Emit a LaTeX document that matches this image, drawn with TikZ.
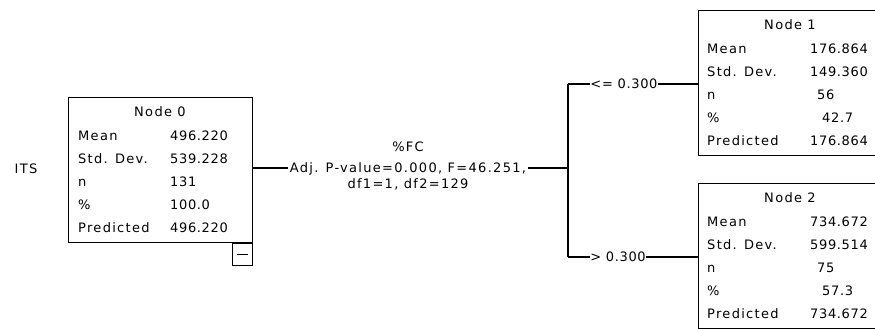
\documentclass[tikz,border=0pt]{standalone}
\usepackage{fontspec}
\setmainfont{DejaVu Sans}
\newfontfamily\lblfont[LetterSpace=10]{DejaVu Sans}
\newfontfamily\numfont[LetterSpace=5]{DejaVu Sans}
\begin{document}
\begin{tikzpicture}[x=1pt,y=-1pt,
  box/.style={draw=black,line width=1.2pt,inner sep=0pt,minimum width=184pt,minimum height=145pt,anchor=north west},
  lbl/.style={inner sep=0pt,anchor=base west,font=\lblfont\fontsize{13}{15}\selectfont},
  val/.style={inner sep=0pt,anchor=base west,font=\numfont\fontsize{13}{15}\selectfont},
  ttl/.style={inner sep=0pt,anchor=base,font=\lblfont\fontsize{13}{15}\selectfont},
  conn/.style={line width=1.2pt},
  cond/.style={inner sep=1.5pt,anchor=base,font=\lblfont\fontsize{13}{15}\selectfont},
  brl/.style={inner sep=0.5pt,font=\numfont\fontsize{13}{15}\selectfont}]
\useasboundingbox (0,0) rectangle (875,329);
\begin{scope}
\clip (0,0) rectangle (875,329);
% boxes
\node[box] (n0) at (68,97) {};
\node[box] (n1) at (698,10) {};
\node[box] (n2) at (698,183) {};
\node[draw=black,line width=1.2pt,inner sep=0pt,minimum width=20pt,minimum height=22pt,anchor=north east] (mb) at (n0.south east) {};
\draw[conn] ([xshift=5pt]mb.west) -- ([xshift=-5pt]mb.east);
% node 0 text
\node[ttl] (t0) at (160,116.6) {Node 0};
\node[lbl] (l0a) at (78,140.6) {Mean};
\node[lbl] (l0b) at (78,163.6) {Std. Dev.};
\node[lbl] (l0c) at (78,186.6) {n};
\node[lbl] (l0d) at (78,209.6) {\%};
\node[lbl] (l0e) at (78,232.6) {Predicted};
\node[val] (v0a) at (170,140.6) {496.220};
\node[val] (v0b) at (170,163.6) {539.228};
\node[val] (v0c) at (170,186.6) {131};
\node[val] (v0d) at (170,209.6) {100.0};
\node[val] (v0e) at (170,232.6) {496.220};
% node 1 text
\node[ttl] (t1) at (790,29.6) {Node 1};
\node[lbl] (l1a) at (707,53.6) {Mean};
\node[lbl] (l1b) at (707,76.6) {Std. Dev.};
\node[lbl] (l1c) at (707,99.6) {n};
\node[lbl] (l1d) at (707,122.6) {\%};
\node[lbl] (l1e) at (707,145.6) {Predicted};
\node[val] (v1a) at (810,53.6) {176.864};
\node[val] (v1b) at (810,76.6) {149.360};
\node[val] (v1c) at (817,99.6) {56};
\node[val] (v1d) at (822,122.6) {42.7};
\node[val] (v1e) at (810,145.6) {176.864};
% node 2 text
\node[ttl] (t2) at (790,202.6) {Node 2};
\node[lbl] (l2a) at (707,226.6) {Mean};
\node[lbl] (l2b) at (707,249.6) {Std. Dev.};
\node[lbl] (l2c) at (707,272.6) {n};
\node[lbl] (l2d) at (707,295.6) {\%};
\node[lbl] (l2e) at (707,318.6) {Predicted};
\node[val] (v2a) at (810,226.6) {734.672};
\node[val] (v2b) at (810,249.6) {599.514};
\node[val] (v2c) at (817,272.6) {75};
\node[val] (v2d) at (822,295.6) {57.3};
\node[val] (v2e) at (810,318.6) {734.672};
% target label
\node[lbl,anchor=center] (its) at (26,169) {ITS};
% split condition
\node[cond] (c1) at (408,151.6) {\%FC};
\node[cond] (c2) at (408,172.4) {Adj. P-value=0.000, F=46.251,};
\node[cond] (c3) at (408,188.6) {df1=1, df2=129};
\coordinate (split) at (568,168);
\coordinate (jt) at (568,84);
\coordinate (jb) at (568,257);
\draw[conn] (n0.east |- split) -- (c2.west |- split);
\draw[conn] (c2.east |- split) -- (split);
\draw[conn] (jt) -- (jb);
% branches
\node[brl] (b1) at (624,84) {<= 0.300};
\node[brl] (b2) at (618,257) {> 0.300};
\draw[conn] (jt) -- (b1.west |- jt);
\draw[conn] (b1.east |- jt) -- (n1.west |- jt);
\draw[conn] (jb) -- (b2.west |- jb);
\draw[conn] (b2.east |- jb) -- (n2.west |- jb);
\end{scope}
\end{tikzpicture}
\end{document}
